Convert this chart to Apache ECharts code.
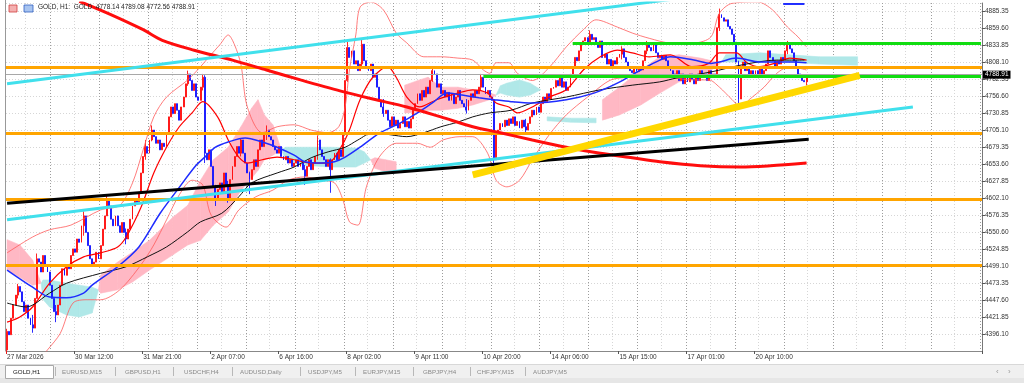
<!DOCTYPE html>
<html><head><meta charset="utf-8">
<script src="https://cdn.jsdelivr.net/npm/echarts@6/dist/echarts.min.js"></script>
<style>html,body{margin:0;padding:0;background:#fff}#c{width:1024px;height:383px}</style>
</head><body><div id="c"></div>
<script>
// ---------- axis ticks ----------
const tickIdx = [0,32,64,96,128,160,192,224,256,288,320,352];
const tickLabels = ['27 Mar 2026','30 Mar 12:00','31 Mar 21:00','2 Apr 07:00','6 Apr 16:00','8 Apr 02:00','9 Apr 11:00','10 Apr 20:00','14 Apr 06:00','15 Apr 15:00','17 Apr 01:00','20 Apr 10:00'];
const daySeparators = [21,44,67,90,113,136,159,182,205,228,251,274,297,320,343,366,389,412,435,458];
const noonLines = [9,32,55,78,101,124,147,170,193,216,239,262,285,308,331,354,377,400,423,446];
const SLOTS = 459;
const priceMin = 4370.35, priceMax = 4897.47, priceStep = 25.75;

// ---------- candles (H1) ----------
const firstOpen = 4372;
const closes = [
4400,4395,4420,4440,4455,4468,4460,4445,4430,4440,
4420,4410,4405,4450,4510,4505,4490,4515,4500,4490,
4470,4450,4430,4425,4440,4470,4495,4485,4500,4495,
4515,4525,4520,4540,4535,4560,4575,4550,4530,4510,
4500,4505,4520,4510,4530,4555,4575,4600,4590,4570,
4560,4575,4560,4550,4565,4550,4540,4555,4570,4590,
4600,4595,4610,4640,4665,4680,4670,4690,4705,4695,
4685,4690,4675,4685,4680,4700,4725,4740,4730,4745,
4735,4720,4740,4755,4775,4790,4780,4765,4775,4755,
4750,4770,4785,4670,4660,4675,4650,4620,4600,4615,
4625,4610,4640,4620,4600,4630,4650,4665,4680,4670,
4690,4670,4655,4640,4630,4645,4660,4650,4675,4690,
4680,4700,4705,4695,4690,4680,4675,4670,4680,4665,
4660,4665,4655,4660,4650,4655,4660,4650,4655,4645,
4635,4650,4660,4645,4655,4665,4690,4675,4665,4660,
4650,4660,4645,4660,4670,4660,4675,4665,4700,4780,
4830,4815,4825,4805,4810,4795,4805,4835,4810,4800,
4795,4805,4785,4790,4770,4750,4740,4730,4735,4720,
4710,4725,4712,4720,4708,4715,4725,4710,4718,4708,
4722,4735,4745,4760,4750,4765,4755,4770,4760,4780,
4795,4790,4770,4775,4760,4765,4755,4762,4750,4760,
4745,4755,4765,4750,4745,4740,4735,4750,4760,4755,
4765,4760,4770,4785,4770,4760,4765,4755,4750,4660,
4700,4705,4715,4710,4720,4712,4722,4715,4725,4712,
4718,4708,4720,4710,4705,4715,4725,4735,4728,4740,
4732,4745,4755,4748,4760,4752,4768,4770,4780,4772,
4785,4770,4778,4765,4770,4790,4800,4815,4810,4825,
4835,4840,4845,4838,4850,4842,4845,4838,4830,4840,
4815,4820,4805,4812,4800,4810,4805,4815,4820,4828,
4815,4808,4800,4795,4792,4800,4794,4800,4796,4810,
4825,4835,4830,4825,4835,4822,4815,4818,4812,4818,
4810,4800,4795,4790,4785,4795,4780,4790,4775,4785,
4778,4790,4782,4775,4788,4780,4795,4785,4790,4780,
4795,4785,4790,4785,4860,4880,4875,4870,4872,4862,
4858,4850,4838,4808,4752,4800,4808,4795,4800,4790,
4795,4785,4795,4790,4800,4788,4795,4805,4825,4815,
4810,4800,4810,4805,4815,4812,4825,4835,4828,4822,
4810,4800,4790,4785,4780,4778.14,4788.91];
// notable wicks: [bar, low, high]
const wicks = [[0,4366,4404],[5,4450,4472],[12,4398,4425],[14,4490,4518],[23,4414,4440],[36,4545,4582],[47,4578,4606],[56,4532,4556],[65,4660,4690],[68,4688,4712],[85,4772,4795],[92,4765,4790],[93,4655,4788],[98,4590,4622],[104,4595,4628],[110,4665,4693],[114,4608,4642],[122,4690,4712],[140,4622,4652],[146,4660,4697],[152,4610,4662],[160,4778,4840],[167,4800,4842],[177,4725,4752],[200,4778,4802],[216,4730,4752],[223,4765,4790],[229,4642,4752],[244,4700,4722],[274,4835,4856],[289,4812,4832],[301,4820,4840],[335,4855,4889],[344,4745,4810],[367,4820,4840],[376,4772.56,4789.08]];

// ---------- indicators [bar, price] ----------
const maSlow = [[34,4900],[48,4881],[64,4857],[73,4841],[88,4826],[106,4811],[122,4796],[138,4781],[157,4764],[172,4752],[188,4740],[204,4725],[219,4710],[232,4701],[247,4690],[263,4679],[279,4670],[294,4663],[307,4657],[326,4651],[345,4649],[359,4651],[376,4655]];
const maBlue = [[0,4493],[12,4467],[20,4452],[28,4451],[36,4458],[40,4470],[52,4498],[62,4528],[72,4579],[80,4614],[89,4652],[93,4664],[98,4679],[104,4687],[112,4693],[120,4687],[127,4679],[135,4667],[140,4657],[148,4655],[154,4657],[159,4664],[166,4679],[175,4700],[185,4716],[193,4731],[200,4746],[207,4761],[214,4758],[222,4754],[229,4751],[237,4748],[247,4746],[263,4751],[276,4761],[287,4776],[298,4796],[307,4811],[312,4816],[323,4811],[331,4806],[335,4808],[343,4814],[354,4808],[370,4808],[376,4807]];
const maBlack = [[0,4443],[9,4437],[20,4458],[28,4473],[44,4488],[56,4498],[66,4513],[75,4528],[85,4551],[91,4566],[101,4579],[109,4604],[115,4625],[127,4640],[135,4649],[143,4663],[151,4672],[159,4679],[165,4690],[172,4701],[180,4698],[188,4695],[196,4701],[204,4710],[212,4717],[219,4725],[227,4731],[237,4735],[247,4746],[263,4755],[279,4766],[294,4773],[307,4778],[315,4784],[331,4793],[346,4804],[362,4811],[375,4811]];
const bbMid = [[0,4414],[6,4422],[12,4437],[20,4473],[28,4498],[36,4513],[44,4519],[52,4528],[56,4543],[63,4588],[69,4640],[75,4679],[81,4710],[87,4731],[92,4748],[99,4725],[104,4690],[109,4664],[113,4655],[120,4660],[127,4664],[135,4660],[143,4655],[151,4655],[157,4679],[161,4705],[166,4751],[172,4785],[179,4801],[183,4785],[188,4755],[194,4740],[202,4751],[212,4761],[219,4766],[226,4761],[230,4746],[236,4740],[240,4731],[247,4740],[255,4755],[263,4766],[271,4796],[279,4816],[287,4826],[294,4822],[302,4816],[312,4819],[322,4801],[330,4806],[335,4822],[343,4822],[348,4807],[354,4801],[362,4807],[368,4814],[376,4811]];
const bbUpper = [[0,4519],[12,4543],[20,4554],[30,4561],[44,4584],[53,4591],[59,4625],[64,4675],[69,4725],[75,4755],[85,4781],[91,4801],[95,4816],[100,4834],[104,4849],[107,4834],[110,4804],[113,4740],[120,4701],[127,4710],[135,4713],[143,4705],[151,4701],[156,4710],[159,4740],[161,4796],[164,4849],[166,4891],[171,4899],[177,4887],[183,4852],[188,4837],[196,4816],[204,4816],[212,4814],[219,4811],[224,4796],[227,4791],[230,4807],[236,4807],[240,4791],[247,4780],[255,4800],[263,4831],[271,4857],[277,4872],[287,4861],[294,4852],[302,4844],[312,4837],[323,4837],[331,4846],[335,4882],[341,4897],[353,4899],[360,4887],[367,4861],[372,4846],[376,4831]];
const bbLower = [[13,4349],[19,4372],[25,4397],[31,4443],[38,4448],[44,4448],[53,4463],[63,4501],[69,4531],[75,4569],[81,4607],[87,4629],[92,4622],[96,4576],[103,4558],[109,4584],[117,4604],[125,4614],[132,4629],[140,4634],[148,4629],[154,4625],[158,4599],[161,4566],[165,4561],[169,4619],[175,4664],[183,4685],[193,4685],[199,4679],[205,4690],[213,4695],[219,4695],[226,4670],[230,4629],[235,4619],[241,4629],[247,4660],[255,4698],[263,4728],[273,4755],[284,4781],[294,4785],[307,4788],[312,4785],[322,4781],[330,4781],[335,4770],[341,4751],[345,4740],[349,4751],[356,4770],[362,4791],[368,4801],[376,4796]];
// Ichimoku cloud (null = gap)
const cloudIdx = [0,6,12,16,17,20,28,34,40,43,44,52,59,67,78,85,91,97,104,110,115,118,121,125,129,131,138,152,164,168,171,173,178,183,null,187,194,198,204,212,219,227,230,232,235,241,246,251,null,254,265,277,null,280,288,298,307,316,326,334,336,338,354,368,382,400];
const senkouA = [4493,4482,4470,4473,4478,4478,4473,4470,4467,4463,4458,4463,4475,4493,4516,4531,4538,4561,4581,4614,4632,4644,4660,4667,4675,4679,4679,4679,4678,4672,4660,4647,4642,4642,null,4731,4732,4735,4735,4738,4743,4751,4758,4772,4776,4781,4776,4766,null,4725,4723,4723,null,4720,4728,4743,4761,4778,4785,4802,4808,4819,4822,4819,4816,4816];
const senkouB = [4539,4531,4508,4473,4448,4437,4425,4422,4428,4463,4485,4505,4520,4538,4573,4591,4629,4660,4679,4710,4738,4751,4728,4713,4675,4660,4652,4649,4649,4655,4660,4663,4660,4657,null,4773,4781,4785,4770,4770,4766,4761,4758,4761,4758,4755,4758,4766,null,4719,4717,4716,null,4751,4770,4796,4816,4819,4814,4808,4808,4808,4808,4808,4805,4803];

// ---------- drawn objects ----------
const levelsOrange = [4800,4700,4600,4500];
const levelsGreen = [[266,4836],[224,4786]];
const cyanUpper = [[0,4775],[420,4947]];
const cyanLower = [[0,4569],[426,4740]];
const blackTrend = [[0,4594],[377,4691]];
const yellowTrend = [[219,4637],[401,4788]];
const blueTop = [[365,4896],[375,4896]];

const tabs = ['GOLD,H1','EURUSD,M15','GBPUSD,H1','USDCHF,H4','AUDUSD,Daily','USDJPY,M5','EURJPY,M15','GBPJPY,H4','CHFJPY,M15','AUDJPY,M5'];

// ---------- build ----------
const FONT = 'Liberation Sans';
const cats = Array.from({length:SLOTS}, (_, i) => String(i));
const tickSet = new Set(tickIdx), daySet = new Set(daySeparators), noonSet = new Set(noonLines);
const labelMap = {}; tickIdx.forEach((t, k) => labelMap[t] = tickLabels[k]);
const wickMap = {}; wicks.forEach(w => wickMap[w[0]] = w);
const candles = closes.map((c, i) => {
  const o = i ? closes[i-1] : firstOpen;
  let lo = Math.min(o, c), hi = Math.max(o, c);
  const w = wickMap[i];
  if (w) { lo = Math.min(lo, w[1]); hi = Math.max(hi, w[2]); }
  return [o, c, lo, hi];
});
const last = candles[candles.length-1];
const bidPrice = last[1];

function renderCloud(params, api) {
  const children = [];
  for (let k = 0; k < cloudIdx.length-1; k++) {
    if (cloudIdx[k] == null || cloudIdx[k+1] == null) continue;
    const a0 = api.coord([cloudIdx[k], senkouA[k]]), a1 = api.coord([cloudIdx[k+1], senkouA[k+1]]);
    const b1 = api.coord([cloudIdx[k+1], senkouB[k+1]]), b0 = api.coord([cloudIdx[k], senkouB[k]]);
    const up = (senkouA[k] + senkouA[k+1]) >= (senkouB[k] + senkouB[k+1]);
    const col = up ? '#b0e8e8' : '#ffb8c4';
    children.push({type:'polygon', shape:{points:[a0,a1,b1,b0]}, style:{fill:col, stroke:col, lineWidth:0.6}});
  }
  return {type:'group', children};
}

function ln(name, data, color, width, z, smooth) {
  return {name, type:'line', data, symbol:'none', smooth: smooth || false, z, silent:true,
    lineStyle:{color, width, cap:'butt'}, clip:true};
}

const graphics = [
  {type:'line', shape:{x1:5.5,y1:0,x2:5.5,y2:351}, style:{stroke:'#999', lineWidth:1}, z:10},
  {type:'rect', shape:{x:9,y:5,width:8,height:7}, style:{fill:'#f4b0b0', stroke:'#d04040', lineWidth:0.8}, z:10},
  {type:'rect', shape:{x:24,y:5,width:9,height:7}, style:{fill:'#a8c4f0', stroke:'#3060c0', lineWidth:0.8}, z:10},
  {type:'text', left:38, top:4, z:10, style:{text:`GOLD, H1:  GOLD  ${last[0].toFixed(2)} ${last[3].toFixed(2)} ${last[2].toFixed(2)} ${last[1].toFixed(2)}`, fill:'#222', fontSize:6.5, fontFamily:FONT}},
  {type:'rect', shape:{x:0,y:364,width:1024,height:19}, style:{fill:'#f0f0f0'}, z:10},
  {type:'line', shape:{x1:0,y1:364.5,x2:1024,y2:364.5}, style:{stroke:'#d8d8d8', lineWidth:1}, z:11},
  {type:'rect', shape:{x:0,y:378,width:1024,height:5}, style:{fill:'#e6e6e6'}, z:11},
  {type:'rect', shape:{x:5.5,y:365.5,width:48,height:13}, style:{fill:'#fff', stroke:'#a8a8a8', lineWidth:1}, z:12},
  {type:'text', x:996, y:372, z:12, style:{text:'‹', fill:'#999', fontSize:8, fontFamily:FONT, verticalAlign:'middle'}},
  {type:'text', x:1008, y:372, z:12, style:{text:'›', fill:'#999', fontSize:8, fontFamily:FONT, verticalAlign:'middle'}}
];
const tabX = [13,62,125,184,240,308,363,423,477,533];
const sepX = [55,115,173,232,300,355,413,470,525];
tabs.forEach((t, k) => graphics.push({type:'text', x:tabX[k], y:372, z:13, style:{text:t, fill: k===0 ? '#111' : '#8a8a8a', fontSize:6.2, fontFamily:FONT, verticalAlign:'middle'}}));
sepX.forEach(x => graphics.push({type:'line', shape:{x1:x+0.5,y1:367,x2:x+0.5,y2:376}, style:{stroke:'#b8b8b8', lineWidth:1}, z:13}));

const chart = echarts.init(document.getElementById('c'), null, {renderer:'canvas'});
chart.setOption({
  animation:false,
  textStyle:{fontFamily:FONT},
  grid:{left:6, right:42, top:3, bottom:32, containLabel:false},
  xAxis:[{
    type:'category', data:cats, boundaryGap:true,
    axisLine:{show:true, lineStyle:{color:'#888'}},
    axisTick:{show:true, interval:(i)=>tickSet.has(i), length:3, lineStyle:{color:'#555'}},
    axisLabel:{interval:(i)=>tickSet.has(i), formatter:(v)=>labelMap[+v] || '', align:'left', margin:3, fontSize:6.5, color:'#333'},
    splitLine:{show:true, interval:(i)=>noonSet.has(i), lineStyle:{color:'#d6d6d6', type:[1,2], width:1}}
  },{
    type:'category', data:cats, boundaryGap:true, position:'bottom',
    axisLine:{show:false}, axisTick:{show:false}, axisLabel:{show:false},
    splitLine:{show:true, interval:(i)=>daySet.has(i), lineStyle:{color:'#9c9c9c', type:[1,2], width:1}}
  }],
  yAxis:{
    type:'value', position:'right', min:priceMin, max:priceMax, interval:priceStep,
    axisLine:{show:true, lineStyle:{color:'#777'}},
    axisTick:{show:true, length:3, lineStyle:{color:'#555'}},
    axisLabel:{fontSize:6.5, color:'#333', margin:3, formatter:(v)=>v.toFixed(2), showMinLabel:false, showMaxLabel:false},
    splitLine:{show:true, lineStyle:{color:'#d6d6d6', type:[1,2]}}
  },
  graphic:graphics,
  series:[
    {type:'custom', name:'cloud', renderItem:renderCloud, data:[[0,4600]], z:1, silent:true},
    {type:'candlestick', name:'GOLD', data:candles, barWidth:1.4, z:3, silent:true,
     itemStyle:{color:'#ff1010', color0:'#1414ff', borderColor:'#ff1010', borderColor0:'#1414ff', borderWidth:0.9},
     markLine:{silent:true, symbol:['none','none'], data:[{yAxis:bidPrice}],
       lineStyle:{color:'#a8a8a8', width:1, type:'solid'},
       label:{show:true, position:'end', distance:1, formatter:bidPrice.toFixed(2), color:'#fff', backgroundColor:'#000', padding:[1,2,0,2], fontSize:6.5, fontFamily:FONT}}},
    ln('BB upper', bbUpper, '#ff5a5a', 0.8, 4, 0.3),
    ln('BB lower', bbLower, '#ff5a5a', 0.8, 4, 0.3),
    ln('BB mid', bbMid, '#ff0000', 1.2, 4, 0.3),
    ln('MA black', maBlack, '#111111', 1, 4, 0.3),
    ln('MA blue', maBlue, '#1e2cff', 1.5, 4, 0.3),
    ln('MA slow', maSlow, '#ff0d0d', 3, 5, 0.3),
    {type:'line', name:'levels', data:[], z:5, silent:true,
     markLine:{silent:true, symbol:['none','none'], data:levelsOrange.map(v=>({yAxis:v})), label:{show:false},
       lineStyle:{color:'#ffa500', width:3, type:'solid'}}},
    ln('green1', [[levelsGreen[0][0], levelsGreen[0][1]], [SLOTS-1, levelsGreen[0][1]]], '#11dd11', 3, 5),
    ln('green2', [[levelsGreen[1][0], levelsGreen[1][1]], [SLOTS-1, levelsGreen[1][1]]], '#11dd11', 3, 5),
    ln('cyan upper', cyanUpper, '#40e0ec', 3, 6),
    ln('cyan lower', cyanLower, '#40e0ec', 3, 6),
    ln('black trend', blackTrend, '#000000', 3, 6),
    ln('yellow trend', yellowTrend, '#ffd800', 7, 6),
    ln('blue top', blueTop, '#1e2cff', 2, 6)
  ]
});
</script></body></html>
